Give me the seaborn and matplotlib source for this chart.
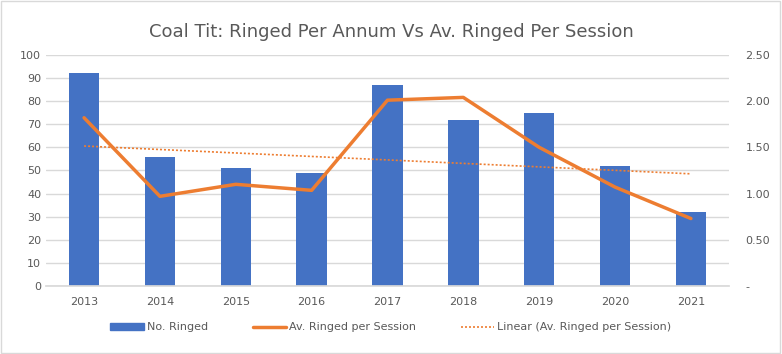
import numpy as np
import pandas as pd
import matplotlib
matplotlib.use('agg')
import matplotlib.pyplot as plt
import seaborn as sns
from matplotlib.patches import Patch, Rectangle
from matplotlib.lines import Line2D

YEARS = ['2013', '2014', '2015', '2016', '2017', '2018', '2019', '2020', '2021']
RINGED = [92, 56, 51, 49, 87, 72, 75, 52, 32]
AV_PER_SESSION = [1.82, 0.97, 1.10, 1.035, 2.01, 2.04, 1.50, 1.07, 0.73]

BLUE = '#4472C4'
ORANGE = '#ED7D31'
GREY = '#595959'
GRID = '#d9d9d9'

sns.set_theme(style="white")
plt.rcParams['font.family'] = ['DejaVu Sans']

df = pd.DataFrame({"year": YEARS, "ringed": RINGED, "avg": AV_PER_SESSION})
df["pos"] = np.arange(len(YEARS))

# excel style linear trendline
slope, icpt = np.polyfit(df["pos"], df["avg"], 1)
df["trend"] = icpt + slope * df["pos"]

fig = plt.figure(figsize=(7.82, 3.54), dpi=100)
ax = fig.add_axes([0.059, 0.192, 0.873, 0.653])

sns.barplot(x="year", y="ringed", data=df, ax=ax, color=BLUE, width=0.4, saturation=1, linewidth=0)
ax.set_xlim(-0.5, len(YEARS) - 0.5)
ax.set_ylim(0, 100)
ax.set_yticks(range(0, 101, 10))
ax.grid(axis='y', color=GRID, lw=1)
ax.set_axisbelow(True)
ax.set(xlabel='', ylabel='')
for s in ['left', 'top', 'right']:
    ax.spines[s].set_visible(False)
ax.spines['bottom'].set_color(GRID)
ax.tick_params(axis='both', colors=GREY, labelsize=8, length=0)
ax.tick_params(axis='x', pad=8)
ax.set_xticks(np.arange(-0.5, len(YEARS), 1), minor=True)
ax.tick_params(axis='x', which='minor', length=4, color=GRID)

ax2 = ax.twinx()
sns.lineplot(x="pos", y="avg", data=df, ax=ax2, color=ORANGE, lw=2.5)
sns.lineplot(x="pos", y="trend", data=df, ax=ax2, color=ORANGE, lw=1.2, linestyle=(0, (1.2, 1.2)))
ax2.set_ylim(0, 2.5)
ax2.set_yticks(np.arange(0, 2.51, 0.5))
ax2.set_yticklabels(['-', '0.50', '1.00', '1.50', '2.00', '2.50'])
ax2.set(xlabel='', ylabel='')
for s in ax2.spines.values():
    s.set_visible(False)
ax2.tick_params(axis='y', colors=GREY, labelsize=8, length=0, pad=12)

fig.suptitle("Coal Tit: Ringed Per Annum Vs Av. Ringed Per Session", y=0.935, fontsize=13, color=GREY)

handles = [Patch(color=BLUE),
           Line2D([], [], color=ORANGE, lw=2.5),
           Line2D([], [], color=ORANGE, lw=1.2, linestyle=(0, (1.2, 1.2)))]
labels = ["No. Ringed", "Av. Ringed per Session", "Linear (Av. Ringed per Session)"]
fig.legend(handles, labels, loc='center', bbox_to_anchor=(0.5, 0.075), ncol=3, frameon=False,
           fontsize=8, labelcolor=GREY, handlelength=3, columnspacing=4, handletextpad=0.3)

fig.patches.append(Rectangle((0.001, 0.002), 0.997, 0.994, transform=fig.transFigure,
                             fill=False, edgecolor=GRID, lw=1))

fig.savefig("out.png", dpi=100)
